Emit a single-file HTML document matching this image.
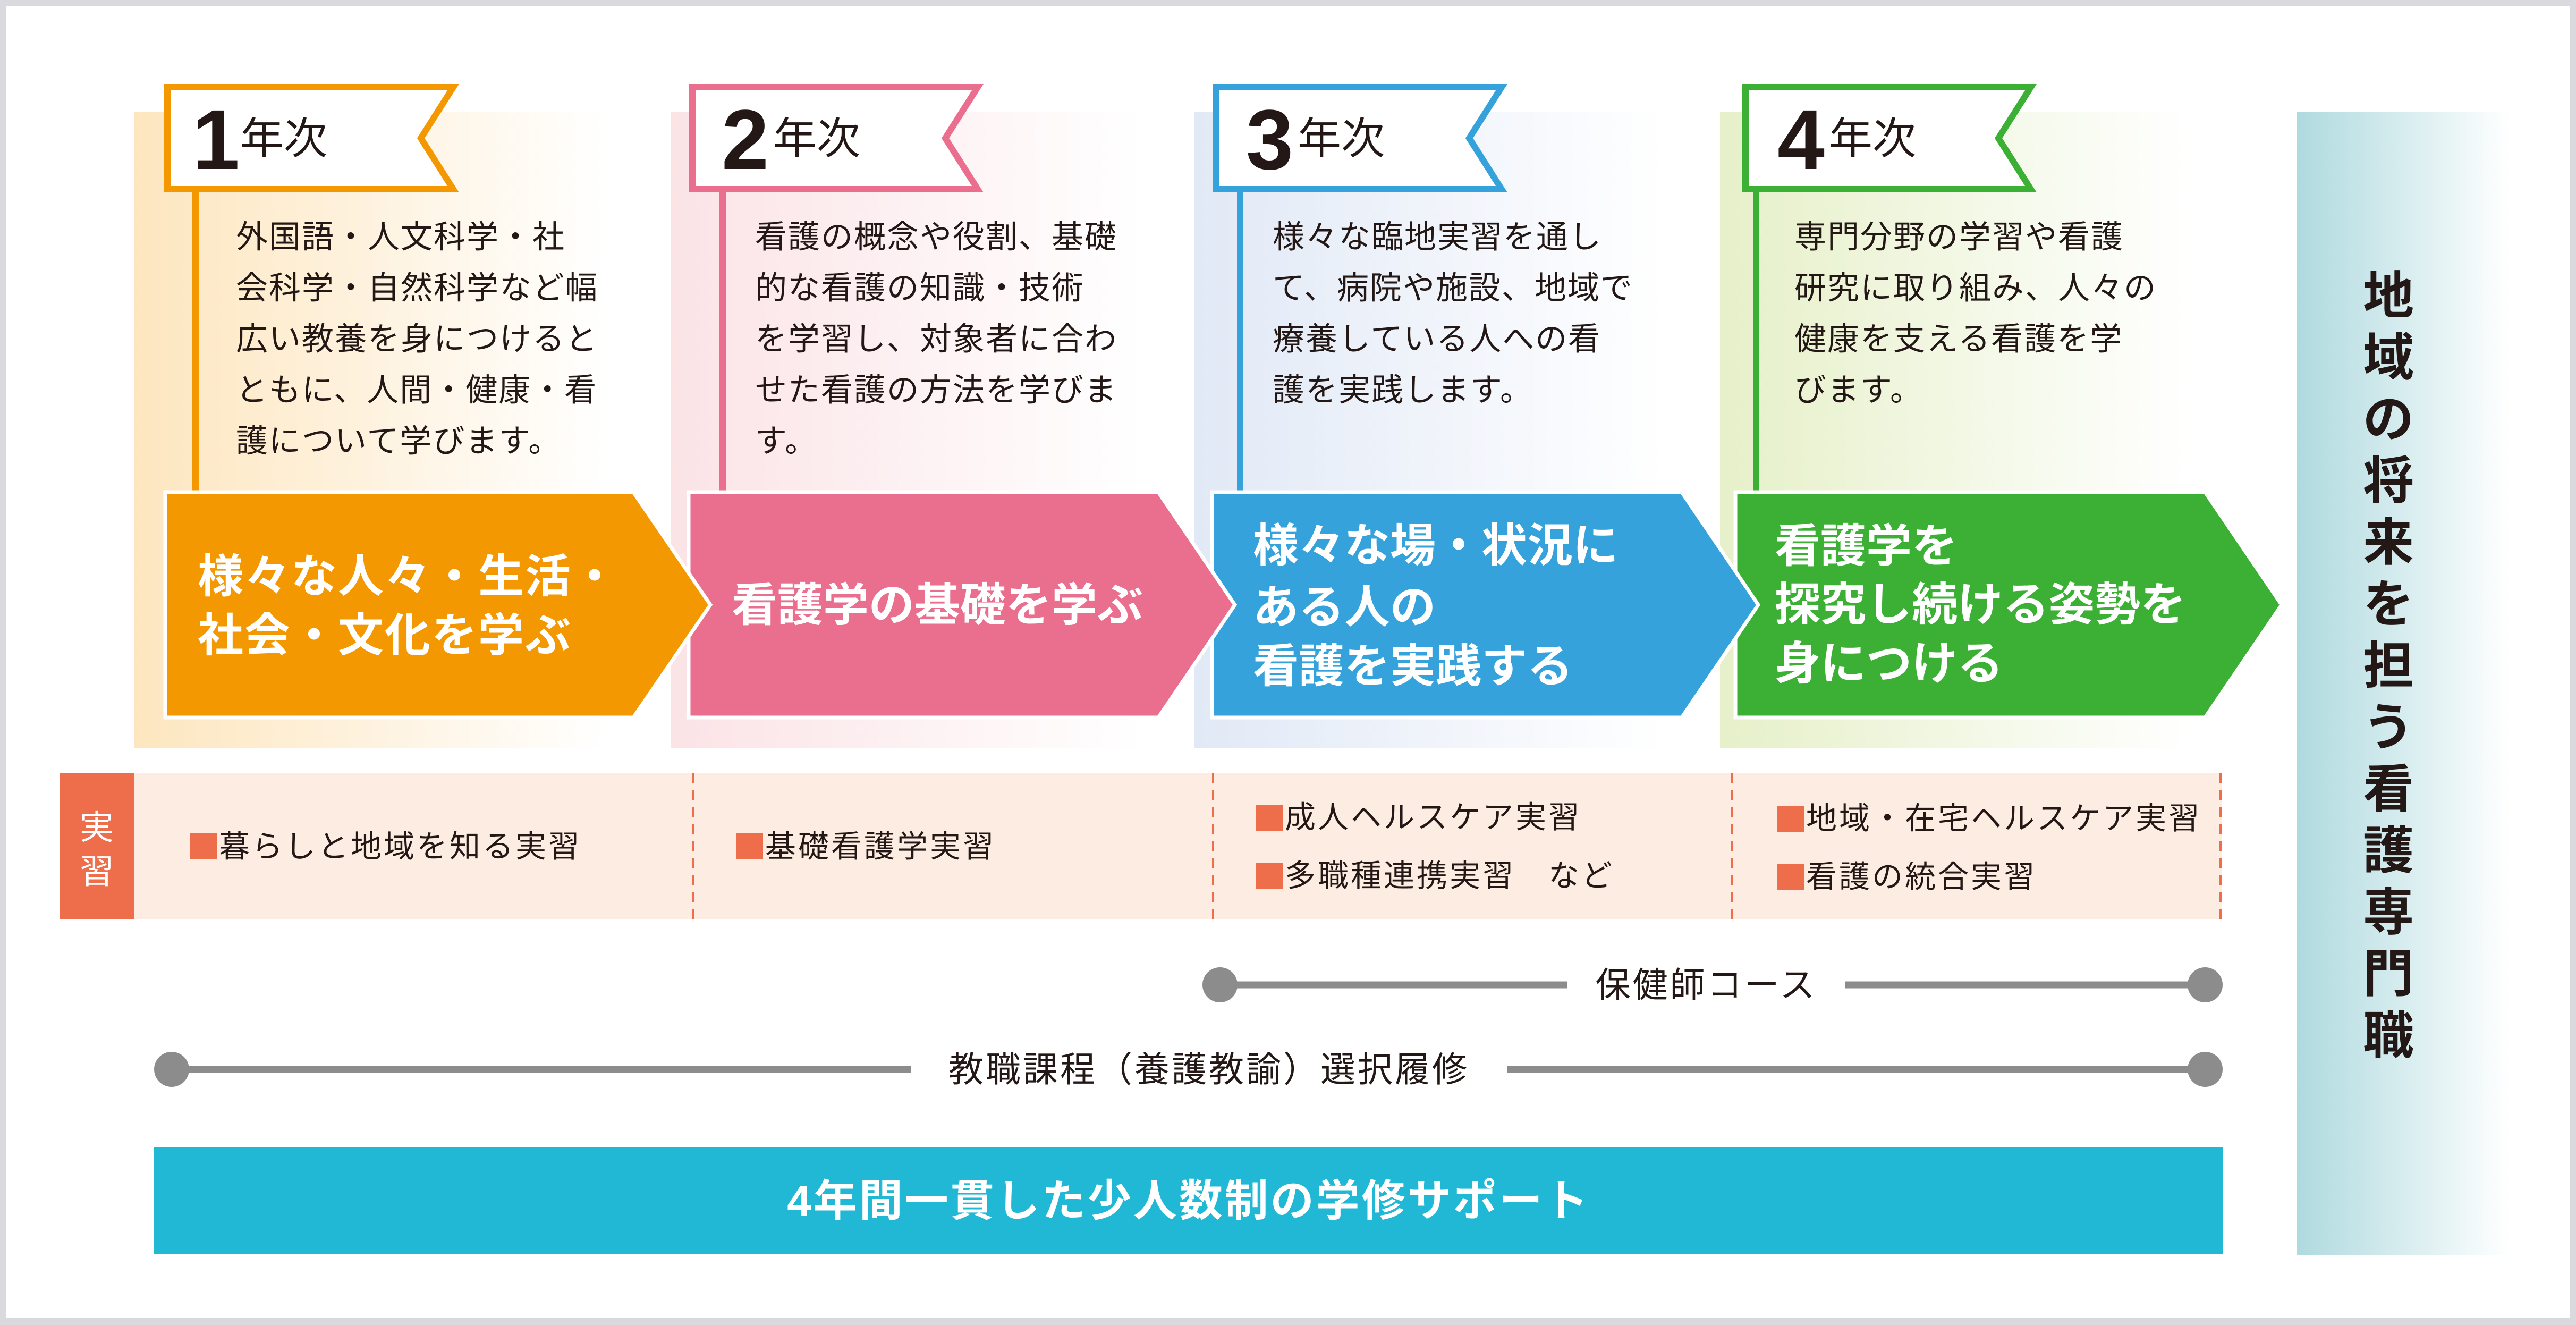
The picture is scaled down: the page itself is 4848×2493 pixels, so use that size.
<!DOCTYPE html>
<html><head><meta charset="utf-8"><style>
html,body{margin:0;padding:0;background:#d9d9de;}
svg{display:block;}
text{font-family:"Liberation Sans","Noto Sans CJK JP",sans-serif;}
</style></head><body>
<svg width="4848" height="2493" viewBox="0 0 4848 2493" xmlns="http://www.w3.org/2000/svg">
<defs>
<linearGradient id="g1" x1="0" x2="1" y1="0" y2="0"><stop offset="0" stop-color="#FDE6BF"/><stop offset="0.9" stop-color="#FFFFFF"/></linearGradient>
<linearGradient id="g2" x1="0" x2="1" y1="0" y2="0"><stop offset="0" stop-color="#FBE3E6"/><stop offset="0.9" stop-color="#FFFFFF"/></linearGradient>
<linearGradient id="g3" x1="0" x2="1" y1="0" y2="0"><stop offset="0" stop-color="#E1E9F6"/><stop offset="0.9" stop-color="#FFFFFF"/></linearGradient>
<linearGradient id="g4" x1="0" x2="1" y1="0" y2="0"><stop offset="0" stop-color="#E6F0C9"/><stop offset="0.9" stop-color="#FFFFFF"/></linearGradient>
<linearGradient id="gr" x1="0" x2="1" y1="0" y2="0"><stop offset="0" stop-color="#AFDADF"/><stop offset="1" stop-color="#FFFFFF"/></linearGradient>
</defs>
<rect x="11" y="11" width="4826" height="2469" fill="#fff"/>

<rect x="253" y="210" width="985" height="1197" fill="url(#g1)"/>
<rect x="1262" y="210" width="985" height="1197" fill="url(#g2)"/>
<rect x="2248" y="210" width="985" height="1197" fill="url(#g3)"/>
<rect x="3237" y="210" width="985" height="1197" fill="url(#g4)"/>

<rect x="4323" y="210" width="400" height="2152" fill="url(#gr)"/>
<g font-size="96" font-weight="bold" fill="#231815" text-anchor="middle">
<text x="4495" y="590">地</text><text x="4495" y="706">域</text><text x="4495" y="822">の</text><text x="4495" y="938">将</text><text x="4495" y="1054">来</text><text x="4495" y="1170">を</text><text x="4495" y="1286">担</text><text x="4495" y="1402">う</text><text x="4495" y="1518">看</text><text x="4495" y="1634">護</text><text x="4495" y="1750">専</text><text x="4495" y="1866">門</text><text x="4495" y="1982">職</text>
</g>

<rect x="362" y="340" width="12" height="600" fill="#F39800"/>
<rect x="1354" y="340" width="12" height="600" fill="#EA6E8E"/>
<rect x="2328" y="340" width="12" height="600" fill="#35A2DC"/>
<rect x="3299" y="340" width="12" height="600" fill="#3CB035"/>

<g stroke-width="12" fill="#fff">
<polygon points="315,164 853,164 792,260 853,356 315,356" stroke="#F39800"/>
<polygon points="1303,164 1840,164 1779,260 1840,356 1303,356" stroke="#EA6E8E"/>
<polygon points="2289,164 2826,164 2765,260 2826,356 2289,356" stroke="#35A2DC"/>
<polygon points="3285,164 3822,164 3761,260 3822,356 3285,356" stroke="#3CB035"/>
</g>
<g fill="#231815">
<text x="362" y="318" font-size="160" font-weight="bold">1</text><text x="452" y="289" font-size="82">年次</text>
<text x="1358" y="318" font-size="160" font-weight="bold">2</text><text x="1455" y="289" font-size="82">年次</text>
<text x="2345" y="318" font-size="160" font-weight="bold">3</text><text x="2442" y="289" font-size="82">年次</text>
<text x="3345" y="318" font-size="160" font-weight="bold">4</text><text x="3442" y="289" font-size="82">年次</text>
</g>

<g font-size="60" fill="#231815" letter-spacing="2" dominant-baseline="central">
<text x="444" y="446">外国語・人文科学・社</text>
<text x="444" y="542">会科学・自然科学など幅</text>
<text x="444" y="638">広い教養を身につけると</text>
<text x="444" y="734">ともに、人間・健康・看</text>
<text x="444" y="830">護について学びます。</text>

<text x="1421" y="446">看護の概念や役割、基礎</text>
<text x="1421" y="542">的な看護の知識・技術</text>
<text x="1421" y="638">を学習し、対象者に合わ</text>
<text x="1421" y="734">せた看護の方法を学びま</text>
<text x="1421" y="830">す。</text>

<text x="2395" y="446">様々な臨地実習を通し</text>
<text x="2395" y="542">て、病院や施設、地域で</text>
<text x="2395" y="638">療養している人への看</text>
<text x="2395" y="734">護を実践します。</text>

<text x="3377" y="446">専門分野の学習や看護</text>
<text x="3377" y="542">研究に取り組み、人々の</text>
<text x="3377" y="638">健康を支える看護を学</text>
<text x="3377" y="734">びます。</text>
</g>

<g stroke="#fff" stroke-width="7">
<polygon points="3266,926 4150,926 4294,1138 4150,1350 3266,1350" fill="#3CB035"/>
<polygon points="2281,926 3165,926 3309,1138 3165,1350 2281,1350" fill="#35A2DC"/>
<polygon points="1296,926 2180,926 2324,1138 2180,1350 1296,1350" fill="#EA6E8E"/>
<polygon points="311,926 1192,926 1337,1138 1192,1350 311,1350" fill="#F39800"/>
</g>
<g font-size="86" font-weight="bold" fill="#fff" dominant-baseline="central">
<text x="372" y="1085" letter-spacing="2">様々な人々・生活・</text>
<text x="372" y="1196" letter-spacing="2">社会・文化を学ぶ</text>
<text x="1377" y="1139">看護学の基礎を学ぶ</text>
<text x="2358" y="1027">様々な場・状況に</text>
<text x="2358" y="1143">ある人の</text>
<text x="2358" y="1254">看護を実践する</text>
<text x="3340" y="1028">看護学を</text>
<text x="3340" y="1138">探究し続ける姿勢を</text>
<text x="3340" y="1249">身につける</text>
</g>

<rect x="253" y="1454" width="3928" height="276" fill="#FDECE2"/>
<rect x="112" y="1454" width="141" height="276" fill="#EE6D4A"/>
<g font-size="64" fill="#fff" text-anchor="middle" dominant-baseline="central">
<text x="182" y="1557">実</text><text x="182" y="1640">習</text>
</g>
<g stroke="#EE6D4A" stroke-width="4" stroke-dasharray="20 12">
<line x1="1305" y1="1454" x2="1305" y2="1730"/>
<line x1="2283" y1="1454" x2="2283" y2="1730"/>
<line x1="3260" y1="1454" x2="3260" y2="1730"/>
<line x1="4179" y1="1454" x2="4179" y2="1730"/>
</g>
<g fill="#EE6D4A">
<rect x="357" y="1568" width="51" height="49"/>
<rect x="1385" y="1568" width="51" height="49"/>
<rect x="2363" y="1514" width="51" height="49"/>
<rect x="2363" y="1624" width="51" height="49"/>
<rect x="3344" y="1516" width="51" height="49"/>
<rect x="3344" y="1626" width="51" height="49"/>
</g>
<g font-size="58" fill="#231815" letter-spacing="4" dominant-baseline="central">
<text x="412" y="1593">暮らしと地域を知る実習</text>
<text x="1440" y="1593">基礎看護学実習</text>
<text x="2418" y="1538">成人ヘルスケア実習</text>
<text x="2418" y="1648">多職種連携実習　など</text>
<text x="3399" y="1540">地域・在宅ヘルスケア実習</text>
<text x="3399" y="1650">看護の統合実習</text>
</g>

<g stroke="#8C8C8C" stroke-width="13">
<line x1="2296" y1="1853" x2="2950" y2="1853"/>
<line x1="3472" y1="1853" x2="4150" y2="1853"/>
<line x1="323" y1="2012" x2="1714" y2="2012"/>
<line x1="2836" y1="2012" x2="4150" y2="2012"/>
</g>
<g fill="#8C8C8C">
<ellipse cx="2296" cy="1853" rx="33" ry="33"/>
<ellipse cx="4150" cy="1853" rx="33" ry="33"/>
<ellipse cx="323" cy="2012" rx="33" ry="33"/>
<ellipse cx="4150" cy="2012" rx="33" ry="33"/>
</g>
<g font-size="66" fill="#231815" text-anchor="middle" dominant-baseline="central" letter-spacing="4">
<text x="3211" y="1853">保健師コース</text>
<text x="2275" y="2012">教職課程（養護教諭）選択履修</text>
</g>

<rect x="290" y="2158" width="3894" height="202" fill="#21B8D6"/>
<text x="2237" y="2260" font-size="82" font-weight="bold" fill="#fff" text-anchor="middle" dominant-baseline="central" letter-spacing="4">4年間一貫した少人数制の学修サポート</text>
</svg>
</body></html>
